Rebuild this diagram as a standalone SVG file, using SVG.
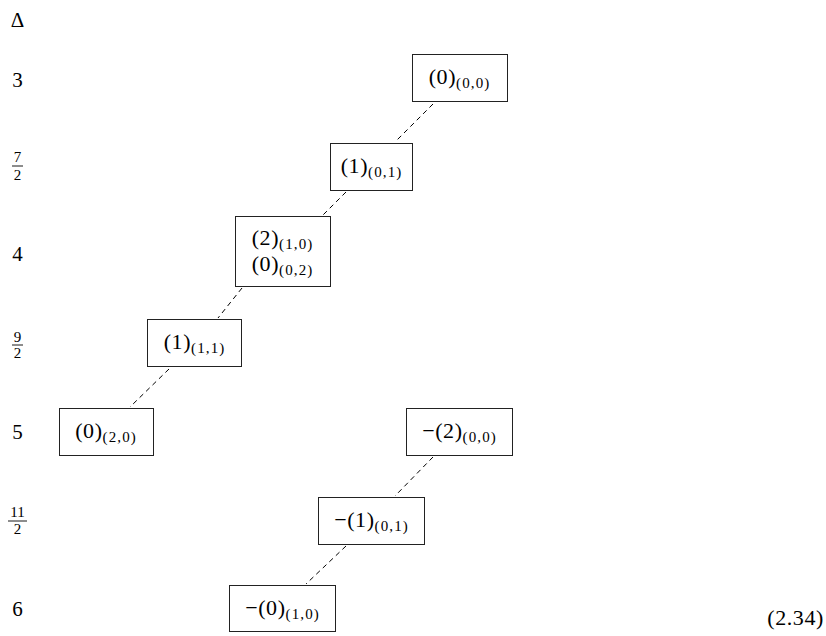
<svg xmlns="http://www.w3.org/2000/svg" width="826" height="636" viewBox="0 0 826 636">
<style>
text{font-family:"Liberation Serif","Times New Roman",serif;fill:#000}
.m{font-size:22px;letter-spacing:0.6px}
.s{font-size:15px;letter-spacing:1.1px}
.lab{font-size:21px;text-anchor:middle}
.fr{font-size:15px;text-anchor:middle}
.box rect{fill:#fff;stroke:#222;stroke-width:1}
.box text{text-anchor:middle}
.bar{stroke:#000;stroke-width:0.9}
#connectors line{stroke:#000;stroke-width:1;stroke-dasharray:5,4}
</style>
<rect width="826" height="636" fill="#fff"/>
<g id="axis">
<text class="lab" x="17.5" y="27">Δ</text>
<text class="lab" x="17.5" y="87">3</text>
<text class="fr" x="17.5" y="162">7</text><line class="bar" x1="12" y1="166" x2="23" y2="166"/><text class="fr" x="17.5" y="179.5">2</text>
<text class="lab" x="17.5" y="261">4</text>
<text class="fr" x="17.5" y="341.5">9</text><line class="bar" x1="12" y1="345" x2="23" y2="345"/><text class="fr" x="17.5" y="357.5">2</text>
<text class="lab" x="17.5" y="439">5</text>
<text class="fr" x="17.5" y="517">11</text><line class="bar" x1="8" y1="521" x2="27" y2="521"/><text class="fr" x="17.5" y="534">2</text>
<text class="lab" x="17.5" y="616">6</text>
</g>
<g id="connectors">
<line x1="433" y1="104" x2="395" y2="142"/>
<line x1="346" y1="192" x2="323" y2="215"/>
<line x1="242" y1="288" x2="218" y2="318"/>
<line x1="169" y1="369" x2="130" y2="407"/>
<line x1="433" y1="457" x2="395" y2="496"/>
<line x1="346" y1="546" x2="306" y2="584"/>
</g>
<g id="n1" class="box"><rect x="412.5" y="54.5" width="95" height="47"/><text x="459.5" y="84"><tspan class="m">(0)</tspan><tspan class="s" dy="4">(0,0)</tspan></text></g>
<g id="n2" class="box"><rect x="330.5" y="143.5" width="82" height="47"/><text x="371.5" y="173"><tspan class="m">(1)</tspan><tspan class="s" dy="4">(0,1)</tspan></text></g>
<g id="n3" class="box"><rect x="235.5" y="216.5" width="95" height="70"/><text x="282.5" y="245"><tspan class="m">(2)</tspan><tspan class="s" dy="4">(1,0)</tspan></text><text x="282.5" y="271"><tspan class="m">(0)</tspan><tspan class="s" dy="4">(0,2)</tspan></text></g>
<g id="n4" class="box"><rect x="147.5" y="319.5" width="94" height="47"/><text x="194.5" y="349"><tspan class="m">(1)</tspan><tspan class="s" dy="4">(1,1)</tspan></text></g>
<g id="n5" class="box"><rect x="59.5" y="408.5" width="94" height="47"/><text x="106" y="438"><tspan class="m">(0)</tspan><tspan class="s" dy="4">(2,0)</tspan></text></g>
<g id="n6" class="box"><rect x="406.5" y="408.5" width="106" height="47"/><text x="459.5" y="438"><tspan class="m">−(2)</tspan><tspan class="s" dy="4">(0,0)</tspan></text></g>
<g id="n7" class="box"><rect x="318.5" y="497.5" width="106" height="47"/><text x="371.5" y="527"><tspan class="m">−(1)</tspan><tspan class="s" dy="4">(0,1)</tspan></text></g>
<g id="n8" class="box"><rect x="229.5" y="585.5" width="106" height="46"/><text x="282.5" y="615"><tspan class="m">−(0)</tspan><tspan class="s" dy="4">(1,0)</tspan></text></g>
<text id="eqnum" class="m" x="824" y="625" text-anchor="end">(2.34)</text>
</svg>
